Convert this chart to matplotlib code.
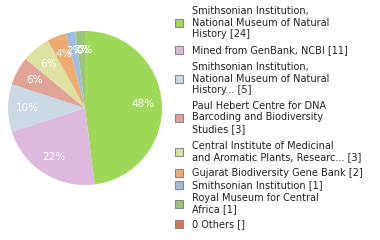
import matplotlib
matplotlib.use('Agg')
import matplotlib.pyplot as plt
from matplotlib.patches import Rectangle

labels = [
    "Smithsonian Institution,\nNational Museum of Natural\nHistory [24]",
    "Mined from GenBank, NCBI [11]",
    "Smithsonian Institution,\nNational Museum of Natural\nHistory... [5]",
    "Paul Hebert Centre for DNA\nBarcoding and Biodiversity\nStudies [3]",
    "Central Institute of Medicinal\nand Aromatic Plants, Researc... [3]",
    "Gujarat Biodiversity Gene Bank [2]",
    "Smithsonian Institution [1]",
    "Royal Museum for Central\nAfrica [1]",
    "0 Others []",
]
counts = [24, 11, 5, 3, 3, 2, 1, 1, 0]
colors = ['#a0d95a', '#dbbadc', '#cbd9e5', '#e0a499', '#dde2a0',
          '#f0ab72', '#9ebde2', '#9cc47c', '#e07058']

W, H = 380, 240
fig = plt.figure(figsize=(W / 100, H / 100), dpi=100)

def px(x, y):
    # pixel (from top-left) -> figure fraction
    return x / W, 1 - y / H

# pie: centre (85,108) px, radius 77 px
cx, cy, r = 85, 108, 77
ax = fig.add_axes([(cx - r) / W, 1 - (cy + r) / H, 2 * r / W, 2 * r / H])
wedges, texts, autotexts = ax.pie(counts, colors=colors, startangle=90, counterclock=False,
                                  autopct=lambda p: '%.0f%%' % p, pctdistance=0.75,
                                  wedgeprops=dict(linewidth=0))
for t in autotexts:
    t.set_color('white')
    t.set_fontsize(7.5)
ax.set_xlim(-1, 1)
ax.set_ylim(-1, 1)
ax.set_aspect('equal')
ax.axis('off')

# legend, laid out by hand: first-line y of each entry (px)
first_line = [11, 50, 67, 106, 146, 173, 185, 198, 224]
line_h = 11.5
for lab, col, y0 in zip(labels, colors, first_line):
    lines = lab.split('\n')
    for i, ln in enumerate(lines):
        fig.text(*px(192, y0 + i * line_h), ln, fontsize=7, va='center', ha='left',
                 color='#222222')
    yc = y0 + (len(lines) - 1) * line_h / 2
    fig.patches.append(Rectangle(px(175, yc + 4), 8 / W, 8 / H,
                                 transform=fig.transFigure, facecolor=col,
                                 edgecolor='#888888', linewidth=0.8))

fig.savefig('out.png', dpi=100)
